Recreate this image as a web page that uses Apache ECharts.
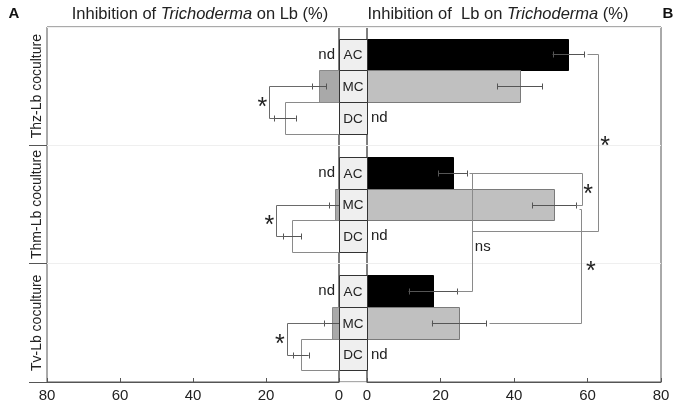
<!DOCTYPE html>
<html><head><meta charset="utf-8">
<script src="https://cdn.jsdelivr.net/npm/echarts@6/dist/echarts.min.js"></script>
<style>html,body{margin:0;padding:0;background:#fff}#c{width:690px;height:406px}</style>
</head><body><div id="c"></div>
<script>
// ---------- data ----------
const groups = ['Thz-Lb coculture', 'Thm-Lb coculture', 'Tv-Lb coculture'];
const treatments = ['AC', 'MC', 'DC'];
const xTicks = [0, 20, 40, 60, 80];

// Inhibition of Lb on Trichoderma (%)  (right panel)
const lbOnTrichoAC    = [54.8, 23.3, 17.9];
const lbOnTrichoACErr = [4.3, 3.9, 6.6];
const lbOnTrichoMC    = [41.6, 50.9, 25.0];
const lbOnTrichoMCErr = [6.15, 6.0, 7.35];
const lbOnTrichoDC    = [null, null, null];   // nd

// Inhibition of Trichoderma on Lb (%)  (left panel)
const trichoOnLbAC    = [null, null, null];   // nd
const trichoOnLbMC    = [5.4, 1.0, 1.9];
const trichoOnLbMCErr = [1.9, 1.65, 2.2];
const trichoOnLbDC    = [14.8, 12.8, 10.5];
const trichoOnLbDCErr = [2.95, 2.5, 2.2];

// significance brackets (x in %, y in group units)
const leftBracketX = [19.1, 17.2, 14.3];
const leftBracketLabel = ['*', '*', '*'];
const rightBrackets = [
  [[59.9, 0.232], [62.8, 0.232], [62.8, 1.72], [28.6, 1.72]],
  [[27.7, 1.232], [58.6, 1.232], [58.6, 1.5], [57.0, 1.5]],
  [[28.6, 1.232], [28.6, 2.232], [24.5, 2.232]],
  [[57.6, 1.537], [58.2, 1.537], [58.2, 2.5], [33.2, 2.5]]
];
const rightBracketLabels = ['*', '*', 'ns', '*'];
const rightBracketLabelPos = [[64.8, 0.961], [60.2, 1.366], [31.5, 1.856], [60.9, 2.018]];

// ---------- chart ----------
const FONT = '"Liberation Sans", Arial, Helvetica, sans-serif';
const ROW = 0.268;
const rowCenter = (g, r) => g + 0.5 + (r - 1) * ROW;
const TXT = '#222';
const FRAME = '#555';

function bar(api, m, yc, fill, stroke) {
  const a = api.coord([0, yc - ROW / 2]);
  const b = api.coord([m, yc + ROW / 2]);
  const x0 = Math.round(Math.min(a[0], b[0])) + 0.5, x1 = Math.round(Math.max(a[0], b[0])) + 0.5;
  const y0 = Math.round(Math.min(a[1], b[1])) + 0.5, y1 = Math.round(Math.max(a[1], b[1])) + 0.5;
  return {type: 'rect', shape: {x: x0, y: y0, width: x1 - x0, height: y1 - y0},
          style: {fill: fill, stroke: stroke, lineWidth: 1}};
}
function errBar(api, m, e, yc, out) {
  const lo = Math.max(0, m - e), hi = m + e;
  const a = api.coord([lo, yc]), b = api.coord([hi, yc]);
  const y = Math.round(a[1]) + 0.5;
  const st = {stroke: '#555', lineWidth: 1};
  out.push({type: 'line', shape: {x1: a[0], y1: y, x2: b[0], y2: y}, style: st});
  out.push({type: 'line', shape: {x1: Math.round(b[0]) + 0.5, y1: y - 3, x2: Math.round(b[0]) + 0.5, y2: y + 3}, style: st});
  if (m - e > 0) out.push({type: 'line', shape: {x1: Math.round(a[0]) + 0.5, y1: y - 3, x2: Math.round(a[0]) + 0.5, y2: y + 3}, style: st});
}
function ndText(api, yc, side) {
  const p = api.coord([0, yc]);
  return {type: 'text', x: side === 'left' ? p[0] - 4 : p[0] + 4, y: p[1],
          style: {text: 'nd', align: side === 'left' ? 'right' : 'left', verticalAlign: 'middle',
                  font: '15px ' + FONT, fill: TXT}};
}

// data for series built from arrays
const leftData = [], rightData = [], boxData = [];
groups.forEach((g, gi) => {
  treatments.forEach((t, ri) => {
    boxData.push([gi, ri]);
    const lm = [trichoOnLbAC, trichoOnLbMC, trichoOnLbDC][ri][gi];
    const le = [null, trichoOnLbMCErr, trichoOnLbDCErr][ri];
    leftData.push([gi, ri, lm == null ? 0 : lm, le ? le[gi] : 0, lm == null ? 1 : 0]);
    const rm = [lbOnTrichoAC, lbOnTrichoMC, lbOnTrichoDC][ri][gi];
    const re = [lbOnTrichoACErr, lbOnTrichoMCErr, null][ri];
    rightData.push([gi, ri, rm == null ? 0 : rm, re ? re[gi] : 0, rm == null ? 1 : 0]);
  });
});

const leftFill = ['#000', '#a9a9a9', '#ffffff'];
const leftStroke = ['#000', '#8a8a8a', '#8a8a8a'];
const rightFill = ['#000', '#c0c0c0', '#fff'];
const rightStroke = ['#000', '#7a7a7a', '#7a7a7a'];

function renderSide(side) {
  return function (params, api) {
    const g = api.value(0), r = api.value(1), m = api.value(2), e = api.value(3), nd = api.value(4);
    const yc = rowCenter(g, r);
    if (nd) return {type: 'group', children: [ndText(api, yc, side)]};
    const ch = [];
    ch.push(bar(api, m, yc, side === 'left' ? leftFill[r] : rightFill[r], side === 'left' ? leftStroke[r] : rightStroke[r]));
    errBar(api, m, e, yc, ch);
    return {type: 'group', children: ch};
  };
}

function polyline(api, pts, color) {
  const p = pts.map(q => { const c = api.coord(q); return [Math.round(c[0]) + 0.5, Math.round(c[1]) + 0.5]; });
  return {type: 'polyline', shape: {points: p}, style: {stroke: color, lineWidth: 1, fill: null}};
}
function label(api, pos, text) {
  const c = api.coord(pos);
  const star = text === '*';
  return {type: 'text', x: c[0], y: c[1] + (star ? 6 : 0),
          style: {text: text, align: 'center', verticalAlign: 'middle',
                  font: (star ? '25px ' : '15px ') + FONT, fill: TXT}};
}

const option = {
  animation: false,
  backgroundColor: '#fff',
  grid: [
    {left: 47, right: 351, top: 27, bottom: 24, show: true, borderColor: FRAME, borderWidth: 1},
    {left: 339, right: 323, top: 27, bottom: 24, show: true, borderColor: FRAME, borderWidth: 1},
    {left: 367, right: 29, top: 27, bottom: 24, show: true, borderColor: FRAME, borderWidth: 1}
  ],
  xAxis: [
    {gridIndex: 0, type: 'value', inverse: true, min: 0, max: 80, interval: 20,
     axisLine: {show: true, onZero: false, lineStyle: {color: FRAME}}, axisTick: {show: true, inside: true, length: 4, lineStyle: {color: FRAME}},
     axisLabel: {fontSize: 15, color: TXT, fontFamily: FONT, margin: 6}, splitLine: {show: false}},
    {gridIndex: 1, type: 'value', min: 0, max: 1, show: false},
    {gridIndex: 2, type: 'value', min: 0, max: 80, interval: 20,
     axisLine: {show: true, onZero: false, lineStyle: {color: FRAME}}, axisTick: {show: true, inside: true, length: 4, lineStyle: {color: FRAME}},
     axisLabel: {fontSize: 15, color: TXT, fontFamily: FONT, margin: 6}, splitLine: {show: false}}
  ],
  yAxis: [
    {gridIndex: 0, type: 'category', data: groups, inverse: true, position: 'left',
     axisLine: {show: false, onZero: false},
     axisTick: {show: true, length: 18, inside: false, interval: (i) => i > 0, lineStyle: {color: FRAME}},
     axisLabel: {rotate: 90, interval: 0, fontSize: 14, color: TXT, fontFamily: FONT, margin: 3},
     splitLine: {show: false}},
    {gridIndex: 0, type: 'value', min: 0, max: 3, interval: 1, inverse: true, position: 'right',
     axisLine: {show: false, onZero: false}, axisTick: {show: false}, axisLabel: {show: false},
     splitLine: {show: true, lineStyle: {color: '#efefef'}}},
    {gridIndex: 1, type: 'value', min: 0, max: 3, interval: 1, inverse: true,
     axisLine: {show: false, onZero: false}, axisTick: {show: false}, axisLabel: {show: false},
     splitLine: {show: true, lineStyle: {color: '#efefef'}}},
    {gridIndex: 2, type: 'value', min: 0, max: 3, interval: 1, inverse: true,
     axisLine: {show: false, onZero: false}, axisTick: {show: false}, axisLabel: {show: false},
     splitLine: {show: true, lineStyle: {color: '#efefef'}}}
  ],
  graphic: [
    {type: 'text', x: 200, y: 14, style: {text: '{n|Inhibition of }{i|Trichoderma}{n| on Lb (%)}', align: 'center', verticalAlign: 'middle',
      rich: {n: {fontSize: 16.5, fontFamily: FONT, fill: TXT}, i: {fontSize: 16.5, fontFamily: FONT, fontStyle: 'italic', fill: TXT}}}},
    {type: 'text', x: 498, y: 14, style: {text: '{n|Inhibition of  Lb on }{i|Trichoderma}{n| (%)}', align: 'center', verticalAlign: 'middle',
      rich: {n: {fontSize: 16.5, fontFamily: FONT, fill: TXT}, i: {fontSize: 16.5, fontFamily: FONT, fontStyle: 'italic', fill: TXT}}}},
    {type: 'text', x: 14, y: 14, style: {text: 'A', align: 'center', verticalAlign: 'middle', font: 'bold 15px ' + FONT, fill: '#111'}},
    {type: 'text', x: 668, y: 14, style: {text: 'B', align: 'center', verticalAlign: 'middle', font: 'bold 15px ' + FONT, fill: '#111'}}
  ],
  series: [
    {type: 'custom', name: 'Trichoderma on Lb', xAxisIndex: 0, yAxisIndex: 1, data: leftData, renderItem: renderSide('left'), clip: false, silent: true},
    {type: 'custom', name: 'Lb on Trichoderma', xAxisIndex: 2, yAxisIndex: 3, data: rightData, renderItem: renderSide('right'), clip: false, silent: true},
    {type: 'custom', name: 'treatment boxes', xAxisIndex: 1, yAxisIndex: 2, data: boxData, clip: false, silent: true,
     renderItem: function (params, api) {
       const g = api.value(0), r = api.value(1);
       const yc = rowCenter(g, r);
       const a = api.coord([0, yc - ROW / 2]), b = api.coord([1, yc + ROW / 2]);
       const x0 = Math.round(a[0]) + 0.5, x1 = Math.round(b[0]) + 0.5, y0 = Math.round(a[1]) + 0.5, y1 = Math.round(b[1]) + 0.5;
       const c = api.coord([0.5, yc]);
       return {type: 'group', children: [
         {type: 'rect', shape: {x: x0, y: y0, width: x1 - x0, height: y1 - y0}, style: {fill: '#efefef', stroke: '#333', lineWidth: 1}},
         {type: 'text', x: c[0], y: c[1] + 1, style: {text: treatments[r], align: 'center', verticalAlign: 'middle', font: '13.5px ' + FONT, fill: TXT}}
       ]};
     }},
    {type: 'custom', name: 'left brackets', xAxisIndex: 0, yAxisIndex: 1, data: leftBracketX.map((x, i) => [i, x]), clip: false, silent: true, z: 5,
     renderItem: function (params, api) {
       const g = api.value(0), xv = api.value(1);
       const yM = rowCenter(g, 1), yD = rowCenter(g, 2);
       const mCap = trichoOnLbMC[g] + trichoOnLbMCErr[g], dCap = trichoOnLbDC[g] + trichoOnLbDCErr[g];
       return {type: 'group', children: [
         polyline(api, [[mCap, yM], [xv, yM], [xv, yD], [dCap, yD]], '#6a6a6a'),
         label(api, [xv + 1.9, (yM + yD) / 2], leftBracketLabel[g])
       ]};
     }},
    {type: 'custom', name: 'right brackets', xAxisIndex: 2, yAxisIndex: 3, data: rightBrackets.map((b, i) => [i]), clip: false, silent: true, z: 5,
     renderItem: function (params, api) {
       const i = api.value(0);
       return {type: 'group', children: [
         polyline(api, rightBrackets[i], '#8a8a8a'),
         label(api, rightBracketLabelPos[i], rightBracketLabels[i])
       ]};
     }}
  ]
};
const chart = echarts.init(document.getElementById('c'));
chart.setOption(option);
</script>
</body></html>
